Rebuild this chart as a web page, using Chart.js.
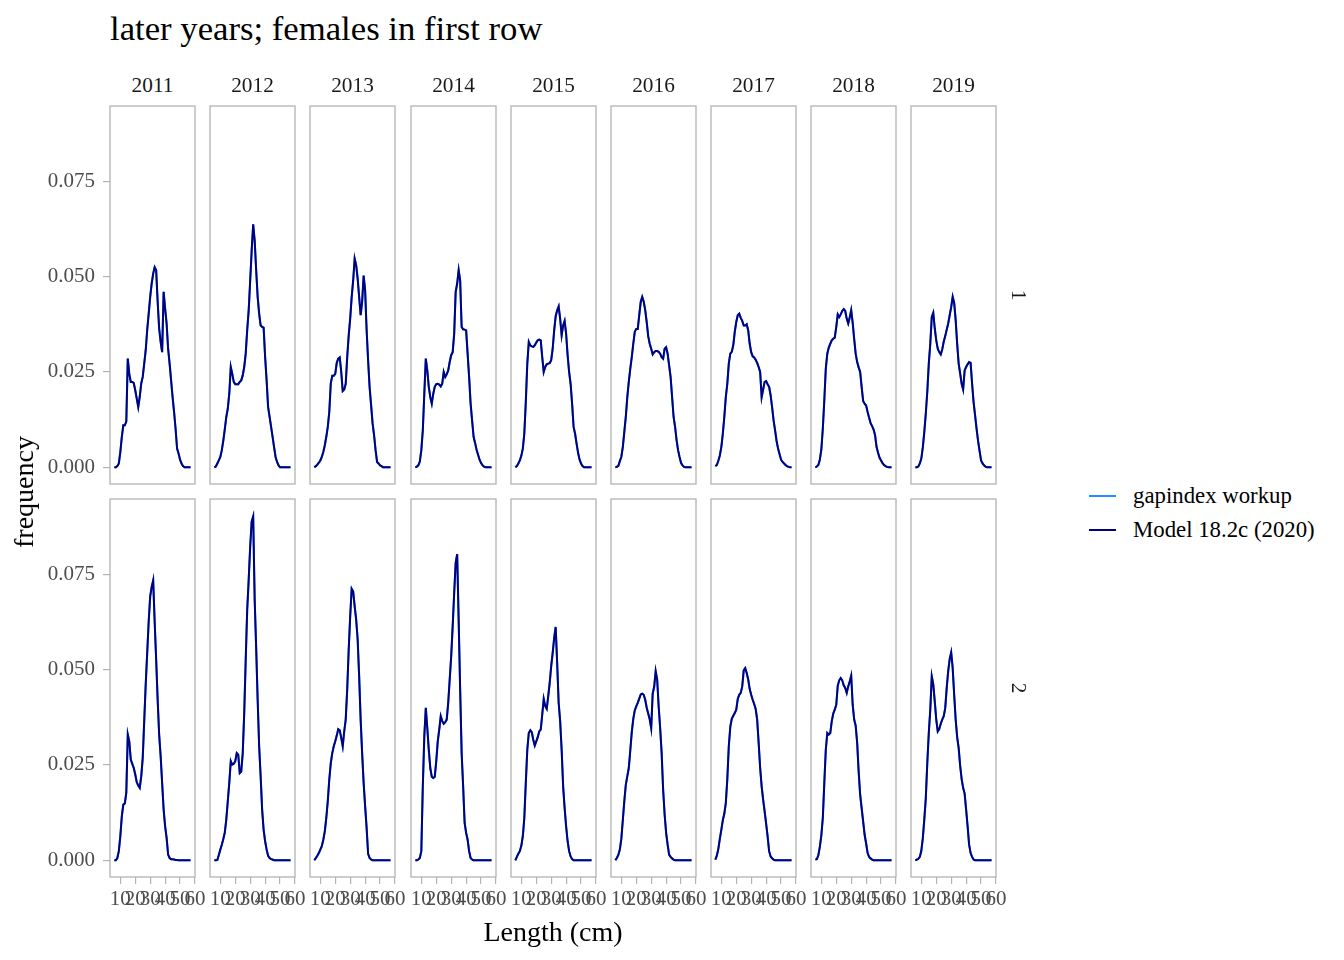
<!DOCTYPE html>
<html><head><meta charset="utf-8">
<script src="https://cdn.jsdelivr.net/npm/chart.js@4.4.1/dist/chart.umd.min.js"></script>
<style>
html,body{margin:0;padding:0;background:#fff;}
body{width:1344px;height:960px;position:relative;overflow:hidden;font-family:'Liberation Serif','Times New Roman',serif;}
.t{position:absolute;white-space:nowrap;line-height:1;color:#000;}
canvas{position:absolute;}
.key{position:absolute;height:2px;}
</style></head><body>
<script>
// ---------------- data ----------------
const years = [2011, 2012, 2013, 2014, 2015, 2016, 2017, 2018, 2019];
const rowLabels = ['1', '2'];
const seriesNames = ['gapindex workup', 'Model 18.2c (2020)'];
const titleText = 'later years; females in first row';
const xTitle = 'Length (cm)';
const yTitle = 'frequency';
const xTicks = [10, 20, 30, 40, 50, 60];
const yTicks = [0, 0.025, 0.05, 0.075];
const lengths = [6,7,8,9,10,11,12,13,14,15,16,17,18,19,20,21,22,23,24,25,26,27,28,29,30,31,32,33,34,35,36,37,38,39,40,41,42,43,44,45,46,47,48,49,50,51,52,53,54,55,56,57];

// row "1"
const sex1_2011 = [0,0,0.0003,0.001,0.004,0.008,0.011,0.011,0.012,0.0285,0.0245,0.0224,0.0224,0.0221,0.0202,0.018,0.0158,0.0185,0.022,0.0237,0.0272,0.0307,0.036,0.0403,0.0447,0.0482,0.0508,0.0525,0.0517,0.0434,0.0364,0.0329,0.0302,0.046,0.0416,0.0377,0.0311,0.0272,0.0228,0.0184,0.0145,0.0101,0.0049,0.0036,0.002,0.001,0.0003,0,0,0,0,0];
const sex1_2012 = [0,0.0002,0.001,0.0018,0.0027,0.0045,0.007,0.010,0.0132,0.0154,0.0193,0.0263,0.0245,0.0224,0.0218,0.0218,0.0218,0.0224,0.0228,0.0241,0.0263,0.0298,0.036,0.0412,0.049,0.0569,0.0637,0.0595,0.0517,0.0447,0.0403,0.0372,0.0368,0.0366,0.0289,0.0228,0.0158,0.0132,0.0106,0.008,0.0053,0.0027,0.0014,0.0005,0,0,0,0,0,0,0,0];
const sex1_2013 = [0,0.0003,0.0007,0.0012,0.0018,0.0027,0.004,0.0058,0.008,0.0106,0.0145,0.022,0.024,0.024,0.0245,0.0274,0.0285,0.0288,0.025,0.020,0.0204,0.0219,0.0289,0.0346,0.039,0.0447,0.049,0.0547,0.053,0.0495,0.0447,0.0399,0.0434,0.0503,0.0464,0.036,0.028,0.021,0.0163,0.0115,0.0084,0.0045,0.0014,0.001,0.0005,0.0003,0,0,0,0,0,0];
const sex1_2014 = [0,0.0002,0.0005,0.0015,0.0045,0.0097,0.0193,0.0285,0.0254,0.0211,0.0184,0.0167,0.0193,0.0211,0.0218,0.0219,0.0217,0.0212,0.0219,0.025,0.0237,0.0244,0.0254,0.0276,0.0294,0.0302,0.035,0.046,0.0482,0.0517,0.049,0.0368,0.0362,0.0361,0.0359,0.0298,0.0237,0.0167,0.0123,0.008,0.0064,0.0046,0.0033,0.002,0.0011,0.0005,0.0002,0,0,0,0,0];
const sex1_2015 = [0,0.0003,0.001,0.0018,0.003,0.0049,0.0088,0.0171,0.0272,0.0329,0.032,0.0317,0.0316,0.032,0.0327,0.0333,0.0335,0.0333,0.0289,0.025,0.0263,0.027,0.0272,0.0273,0.0281,0.0311,0.0359,0.0396,0.0412,0.0422,0.039,0.0346,0.0372,0.0384,0.035,0.0294,0.025,0.0219,0.0167,0.0106,0.0088,0.0062,0.0038,0.002,0.001,0.0003,0,0,0,0,0,0];
const sex1_2016 = [0,0.0001,0.0004,0.0016,0.0027,0.0053,0.0093,0.0132,0.0184,0.0224,0.0259,0.0289,0.0324,0.0355,0.0363,0.0363,0.0399,0.0434,0.0447,0.0434,0.0412,0.0381,0.0344,0.0324,0.0311,0.0296,0.0302,0.0305,0.0305,0.0303,0.0298,0.0289,0.0285,0.0311,0.0315,0.0298,0.0267,0.0237,0.0184,0.0132,0.0106,0.0071,0.0045,0.0027,0.0011,0.0005,0.0001,0,0,0,0,0];
const sex1_2017 = [0.0003,0.0006,0.0017,0.0031,0.0053,0.0088,0.0132,0.0184,0.0219,0.0272,0.0298,0.0303,0.032,0.0355,0.0381,0.0399,0.0403,0.0392,0.0384,0.0372,0.0372,0.0375,0.0359,0.0324,0.0302,0.0291,0.0288,0.0282,0.0274,0.0263,0.025,0.0184,0.0204,0.0224,0.0226,0.0218,0.0211,0.0189,0.0158,0.0123,0.0097,0.0069,0.0049,0.0034,0.002,0.0014,0.001,0.0006,0.0003,0.0001,0,0];
const sex1_2018 = [0,0.0002,0.0006,0.002,0.0046,0.0101,0.0176,0.0259,0.0298,0.0314,0.0324,0.0333,0.0337,0.034,0.0368,0.0401,0.0394,0.0401,0.041,0.0415,0.041,0.039,0.0377,0.0393,0.0412,0.0379,0.0337,0.0298,0.0276,0.0262,0.025,0.0211,0.0174,0.0167,0.0162,0.0145,0.013,0.0116,0.0108,0.0099,0.0084,0.0053,0.0038,0.0025,0.0018,0.0011,0.0006,0.0003,0.0001,0,0,0];
const sex1_2019 = [0,0,0.0002,0.001,0.0023,0.0052,0.0093,0.0141,0.0198,0.0272,0.0324,0.0394,0.0405,0.0364,0.0333,0.0311,0.0302,0.0296,0.0309,0.0329,0.0344,0.0361,0.0377,0.0399,0.042,0.0447,0.0431,0.0386,0.0324,0.0272,0.0246,0.0219,0.0204,0.0254,0.0263,0.027,0.0276,0.0274,0.0219,0.0171,0.0136,0.0101,0.0069,0.0043,0.0018,0.001,0.0005,0.0002,0,0,0,0];

// row "2"
const sex2_2011 = [0,0,0.0006,0.0024,0.0063,0.0115,0.0146,0.0149,0.0177,0.033,0.0312,0.0264,0.0253,0.0242,0.0225,0.0205,0.0196,0.019,0.022,0.0268,0.0365,0.0461,0.0544,0.0627,0.0692,0.0717,0.0734,0.0625,0.0526,0.0421,0.033,0.0273,0.0203,0.0133,0.0089,0.0059,0.0015,0.0006,0.0003,0.0003,0.0002,0.0001,0.0001,0,0,0,0,0,0,0,0,0];
const sex2_2012 = [0,0,0.0001,0.0014,0.0028,0.0041,0.0056,0.0073,0.0107,0.0155,0.0203,0.026,0.0251,0.0253,0.026,0.0281,0.0277,0.0229,0.0233,0.0281,0.0386,0.0526,0.0657,0.0736,0.0823,0.0889,0.0902,0.0684,0.0557,0.0421,0.0299,0.022,0.0133,0.008,0.005,0.0028,0.0012,0.0006,0.0003,0.0002,0,0,0,0,0,0,0,0,0,0,0,0];
const sex2_2013 = [0,0.0006,0.0012,0.0019,0.0028,0.0037,0.0054,0.0076,0.0111,0.0155,0.0212,0.0255,0.0281,0.0299,0.0312,0.0327,0.0344,0.0341,0.0321,0.0299,0.0338,0.0369,0.0448,0.0552,0.064,0.0712,0.0705,0.0666,0.0631,0.0579,0.0483,0.0369,0.0281,0.0203,0.0142,0.0085,0.0017,0.0006,0.0002,0,0,0,0,0,0,0,0,0,0,0,0,0];
const sex2_2014 = [0,0,0.0002,0.0006,0.0024,0.0194,0.0325,0.040,0.0347,0.029,0.0242,0.0219,0.0216,0.0219,0.026,0.0312,0.0343,0.0378,0.0365,0.0358,0.0362,0.0369,0.0413,0.0474,0.0535,0.0614,0.0701,0.078,0.0803,0.063,0.0448,0.0281,0.0194,0.0098,0.0072,0.0054,0.0024,0.0006,0.0002,0,0,0,0,0,0,0,0,0,0,0,0,0];
const sex2_2015 = [0,0.0009,0.0017,0.0024,0.0038,0.0063,0.0111,0.0203,0.029,0.0334,0.0341,0.0336,0.0316,0.0301,0.0312,0.0323,0.0338,0.0343,0.0382,0.0423,0.0404,0.0397,0.043,0.0465,0.0509,0.0544,0.0583,0.0612,0.0517,0.0413,0.0365,0.029,0.0194,0.0137,0.0089,0.005,0.0024,0.001,0.0003,0,0,0,0,0,0,0,0,0,0,0,0,0];
const sex2_2016 = [0,0.0006,0.0014,0.0028,0.0056,0.0105,0.0155,0.0198,0.022,0.0242,0.0288,0.0336,0.0371,0.0393,0.0404,0.0413,0.0424,0.0435,0.0437,0.0434,0.0421,0.04,0.0385,0.037,0.0347,0.0437,0.0455,0.0496,0.0474,0.0404,0.0347,0.0281,0.0185,0.012,0.0072,0.0041,0.0015,0.0009,0.0005,0.0002,0,0,0,0,0,0,0,0,0,0,0,0];
const sex2_2017 = [0.0002,0.0012,0.003,0.0056,0.008,0.0105,0.0122,0.015,0.0212,0.0299,0.035,0.0371,0.0379,0.0386,0.0395,0.0423,0.0434,0.0439,0.0456,0.0498,0.0504,0.0491,0.0474,0.0449,0.0434,0.0421,0.041,0.0397,0.0369,0.0308,0.0242,0.0194,0.0159,0.0128,0.0096,0.0063,0.0024,0.001,0.0005,0.0002,0,0,0,0,0,0,0,0,0,0,0,0];
const sex2_2018 = [0.0002,0.0003,0.0013,0.0035,0.0065,0.0111,0.0203,0.029,0.0334,0.033,0.0334,0.0365,0.0385,0.0395,0.0408,0.0458,0.0472,0.0478,0.0472,0.0459,0.0452,0.0439,0.0456,0.0469,0.0484,0.0408,0.0369,0.0353,0.0308,0.0233,0.0172,0.0137,0.0102,0.0067,0.0044,0.0019,0.0009,0.0005,0.0002,0,0,0,0,0,0,0,0,0,0,0,0,0];
const sex2_2019 = [0,0.0002,0.0004,0.0009,0.0025,0.0058,0.0107,0.0163,0.0255,0.0334,0.0395,0.0482,0.0461,0.0417,0.0369,0.0338,0.0344,0.0358,0.0369,0.0378,0.0399,0.0452,0.0496,0.0528,0.0545,0.0504,0.0434,0.0369,0.0323,0.0295,0.0248,0.0213,0.019,0.0175,0.0133,0.0089,0.0041,0.0019,0.0009,0.0002,0,0,0,0,0,0,0,0,0,0,0,0];

const sex1 = [sex1_2011, sex1_2012, sex1_2013, sex1_2014, sex1_2015, sex1_2016, sex1_2017, sex1_2018, sex1_2019];
const sex2 = [sex2_2011, sex2_2012, sex2_2013, sex2_2014, sex2_2015, sex2_2016, sex2_2017, sex2_2018, sex2_2019];
const rows = [sex1, sex2];

// ---------------- styling / layout ----------------
const FONT = "'Liberation Serif','Times New Roman',serif";
const GAP_COLOR = '#1E90FF';
const MODEL_COLOR = '#000080';
const GREY = '#b3b3b3';
const X_MIN = 3.09, X_MAX = 60;
const Y_MIN = -0.00438, Y_MAX = 0.09475;
const PW = 85, PH = 378;
const rowTop = [106, 499];
const colLeft = c => Math.round(110.3 + 100.08 * c);

function addText(txt, css) {
  const d = document.createElement('div');
  d.className = 't';
  d.textContent = txt;
  Object.assign(d.style, css);
  document.body.appendChild(d);
  return d;
}

const borderPlugin = {
  id: 'panelBorder',
  afterDraw(chart) {
    const a = chart.chartArea, ctx = chart.ctx;
    ctx.save();
    ctx.strokeStyle = GREY;
    ctx.lineWidth = 1.3;
    ctx.strokeRect(a.left, a.top, a.right - a.left, a.bottom - a.top);
    ctx.restore();
  }
};

function makePanel(r, c) {
  const showY = c === 0, showX = r === 1;
  const padL = showY ? 80 : 14, padR = 14, padT = 4, padB = showX ? 44 : 4;
  const W = padL + PW + padR, H = padT + PH + padB;
  const cv = document.createElement('canvas');
  cv.width = W; cv.height = H;
  cv.style.left = (colLeft(c) - padL) + 'px';
  cv.style.top = (rowTop[r] - padT) + 'px';
  cv.style.width = W + 'px'; cv.style.height = H + 'px';
  document.body.appendChild(cv);
  const vals = rows[r][c];
  const pts = lengths.map((x, i) => ({ x: x, y: vals[i] }));
  const tickFont = { family: FONT, size: 21 };
  const gridOpt = { display: true, drawOnChartArea: false, drawTicks: true, tickLength: 7, color: GREY, lineWidth: 1.2 };
  new Chart(cv, {
    type: 'line',
    data: {
      datasets: [
        { label: seriesNames[1], data: pts, borderColor: MODEL_COLOR, backgroundColor: MODEL_COLOR, borderWidth: 2, pointRadius: 0, tension: 0, fill: false },
        { label: seriesNames[0], data: pts, borderColor: GAP_COLOR, backgroundColor: GAP_COLOR, borderWidth: 2, pointRadius: 0, tension: 0, fill: false }
      ]
    },
    options: {
      responsive: false,
      animation: false,
      devicePixelRatio: 1,
      layout: { padding: { left: showY ? 0 : padL, right: padR, top: padT, bottom: showX ? 0 : padB } },
      plugins: { legend: { display: false }, tooltip: { enabled: false }, title: { display: false } },
      scales: {
        x: {
          type: 'linear', position: 'bottom', min: X_MIN, max: X_MAX, display: showX,
          afterBuildTicks: s => { s.ticks = xTicks.map(v => ({ value: v })); },
          afterFit: s => { if (showX) { s.height = padB; s.paddingLeft = 0; s.paddingRight = 0; } },
          ticks: { font: tickFont, color: '#4d4d4d', padding: 3, autoSkip: false, maxRotation: 0, minRotation: 0, callback: v => String(v) },
          grid: gridOpt,
          border: { display: false }
        },
        y: {
          type: 'linear', position: 'left', min: Y_MIN, max: Y_MAX, display: showY,
          afterBuildTicks: s => { s.ticks = yTicks.map(v => ({ value: v })); },
          afterFit: s => { if (showY) { s.width = padL; s.paddingTop = 0; s.paddingBottom = 0; } },
          ticks: { font: tickFont, color: '#4d4d4d', padding: 8, autoSkip: false, callback: v => Number(v).toFixed(3) },
          grid: gridOpt,
          border: { display: false }
        }
      }
    },
    plugins: [borderPlugin]
  });
}

for (let r = 0; r < 2; r++) for (let c = 0; c < years.length; c++) makePanel(r, c);

// title
addText(titleText, { left: '110px', top: '11.5px', fontSize: '34.7px' });
// strip labels (top)
years.forEach((y, c) => {
  addText(String(y), { left: (colLeft(c) + PW / 2) + 'px', top: '74.5px', fontSize: '21.3px', transform: 'translateX(-50%)', color: '#1a1a1a' });
});
// strip labels (right)
rowLabels.forEach((lab, r) => {
  addText(lab, { left: '1017.5px', top: (rowTop[r] + PH / 2) + 'px', fontSize: '21.3px', transform: 'translate(-50%,-50%) rotate(90deg)', color: '#1a1a1a' });
});
// axis titles
addText(xTitle, { left: '553px', top: '917.5px', fontSize: '28px', transform: 'translateX(-50%)' });
addText(yTitle, { left: '24px', top: '492px', fontSize: '28px', transform: 'translate(-50%,-50%) rotate(-90deg)' });
// legend
const legendY = [496, 530];
const legendColors = [GAP_COLOR, MODEL_COLOR];
seriesNames.forEach((name, i) => {
  const k = document.createElement('div');
  k.className = 'key';
  Object.assign(k.style, { left: '1089px', top: (legendY[i] - 1) + 'px', width: '27px', backgroundColor: legendColors[i] });
  document.body.appendChild(k);
  addText(name, { left: '1133px', top: (legendY[i] + 8 - 19.1) + 'px', fontSize: '22.8px' });
});
</script>
</body></html>
